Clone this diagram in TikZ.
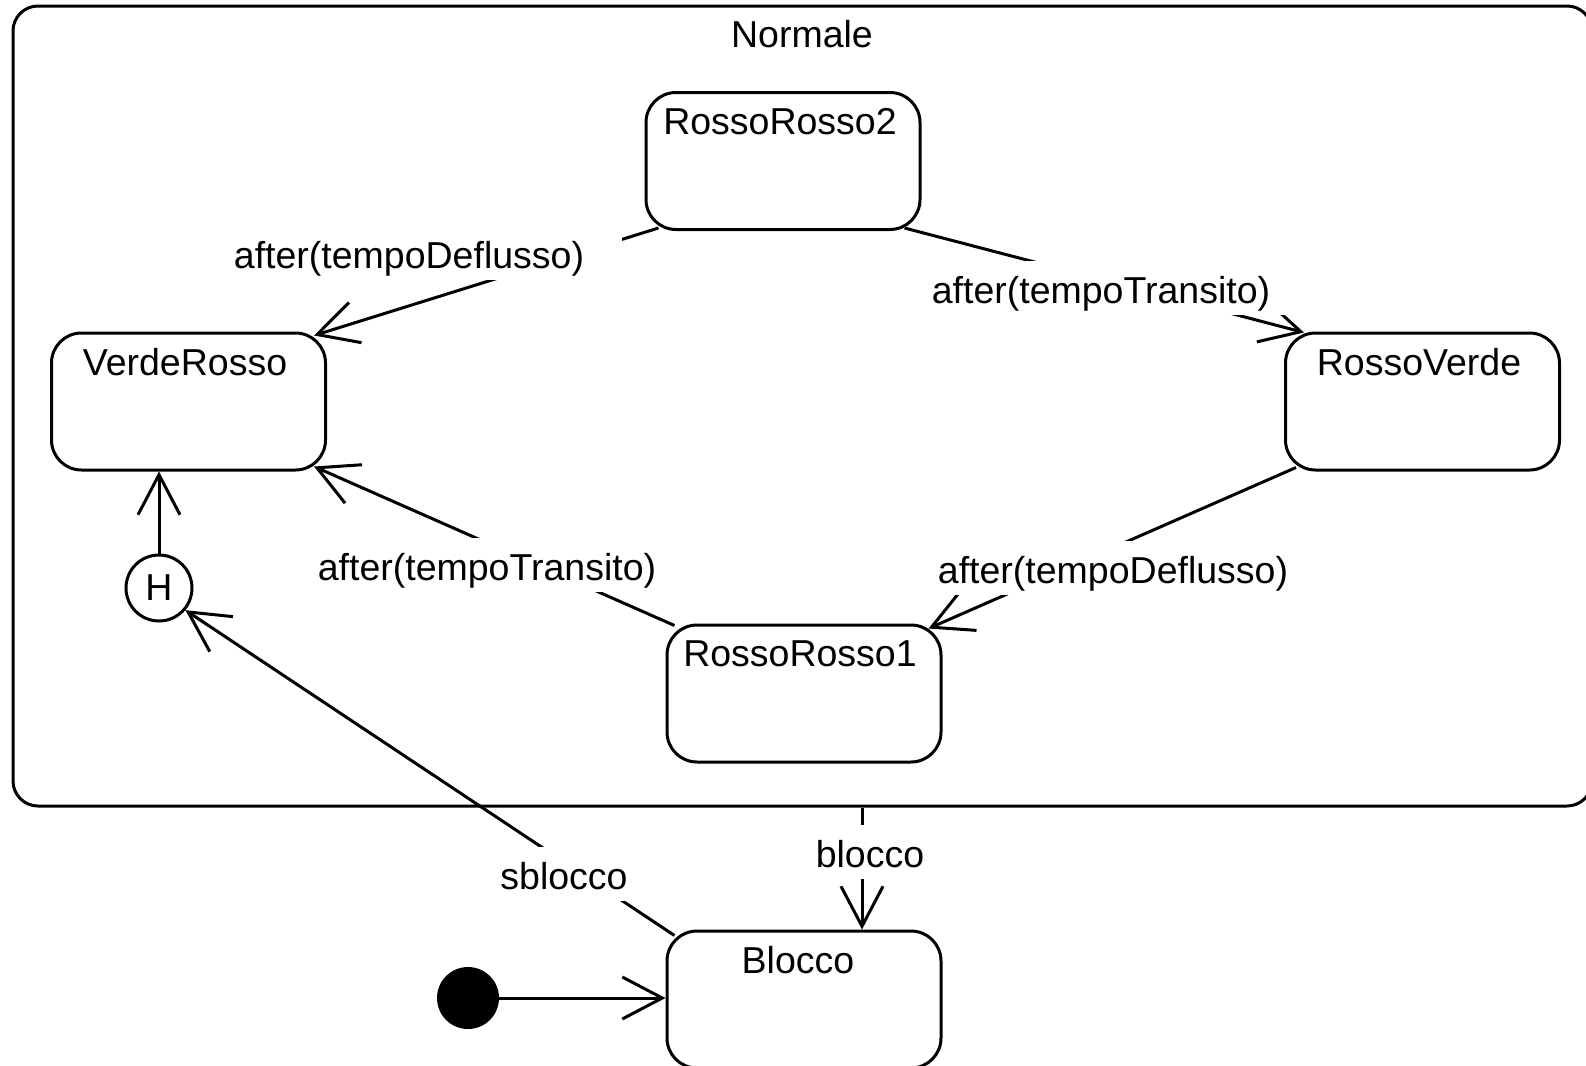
\documentclass[tikz,border=0pt]{standalone}
\usepackage{fontspec}
\setmainfont{Liberation Sans}
\usetikzlibrary{arrows.meta,calc}
\begin{document}
\begin{tikzpicture}[x=0.5pt,y=-0.5pt,
  every node/.style={font=\fontsize{18.75pt}{22pt}\selectfont},
  statebox/.style={draw,line width=1.5pt,rounded corners=15pt,minimum width=137pt,minimum height=68.5pt,inner sep=0pt},
  stname/.style={anchor=base,inner sep=0pt},
  trans/.style={line width=1.5pt,-{Straight Barb[length=20pt,width=21pt,line width=1.5pt]}},
  tlabel/.style={fill=white,anchor=base,inner xsep=8pt,inner ysep=2.25pt,text height=18.75pt,text depth=3.75pt}
]
\clip (0,0) rectangle (1586,1066);
\node[draw,line width=1.5pt,rounded corners=12.5pt,minimum width=789.5pt,minimum height=400pt,inner sep=0pt] (normale) at (802.5,406) {};
\node[stname] (normaleT) at (802,47) {Normale};
\node[statebox] (rr2) at (783,161) {};
\node[stname] (rr2T) at (780,134) {RossoRosso2};
\node[statebox] (vr) at (188.5,401.5) {};
\node[stname] (vrT) at (185,375) {VerdeRosso};
\node[statebox] (rv) at (1422.5,401.5) {};
\node[stname] (rvT) at (1419,375) {RossoVerde};
\node[statebox] (rr1) at (804,693.5) {};
\node[stname] (rr1T) at (800,666) {RossoRosso1};
\node[statebox] (bl) at (804,999.5) {};
\node[stname] (blT) at (798,973) {Blocco};
\node[draw,circle,line width=1.5pt,minimum size=33pt,inner sep=0pt] (h) at (159,588) {H};
\node[fill,circle,minimum size=31pt,inner sep=0pt] (init) at (468,998) {};
\coordinate (bx) at (862,0);
% transitions
\draw[trans] ($(rr2.south west)+(14,-3)$) -- ($(vr.north east)+(-13,4)$);
\draw[trans] ($(rr2.south east)+(-17,-3)$) -- ($(rv.north west)+(20,1)$);
\draw[trans] ($(rr1.north west)+(9,2)$) -- ($(vr.south east)+(-13,-5)$);
\draw[trans] ($(rv.south west)+(12,-4)$) -- ($(rr1.north east)+(-14,5)$);
\draw[trans] (h) -- (vr.south -| h);
\draw[trans] ($(bl.north west)+(9,6)$) -- (h.-40);
\draw[trans] (normale.south -| bx) -- (bl.north -| bx);
\draw[trans] (init) -- (bl.west |- init);
% labels
\node[tlabel,inner xsep=19pt] (l1) at (409,268) {after(tempoDeflusso)};
\node[tlabel] (l2) at (1101,303) {after(tempoTransito)};
\node[tlabel] (l3) at (487,580) {after(tempoTransito)};
\node[tlabel] (l4) at (1113,583) {after(tempoDeflusso)};
\node[tlabel] (l5) at (564,889) {sblocco};
\node[tlabel] (l6) at (870,867) {blocco};
\end{tikzpicture}
\end{document}
